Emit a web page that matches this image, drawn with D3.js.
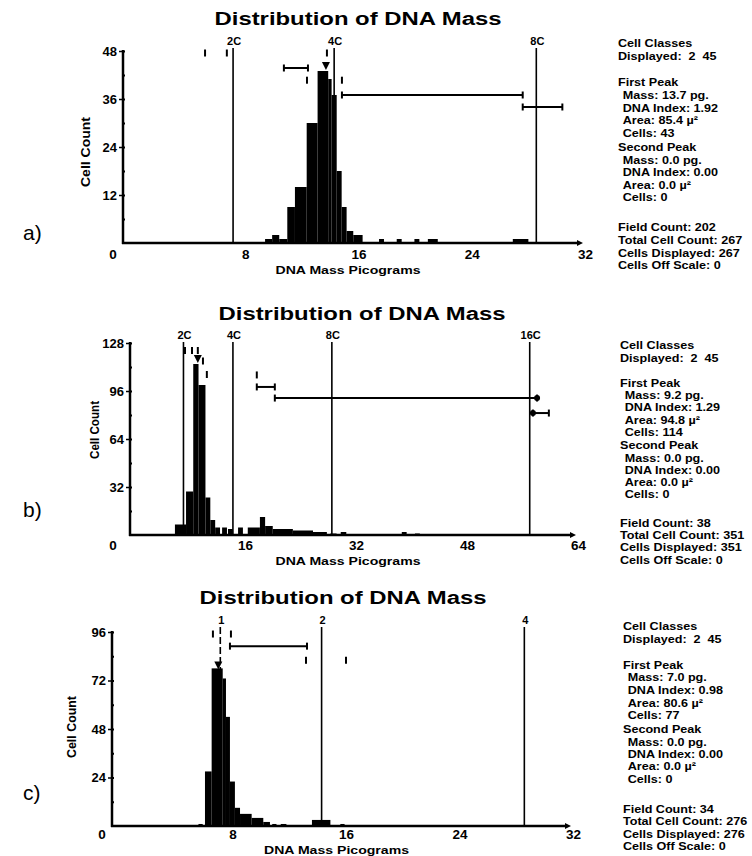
<!DOCTYPE html>
<html>
<head>
<meta charset="utf-8">
<script src="https://cdn.jsdelivr.net/npm/d3@7"></script>
<style>
  body { margin: 0; background: #fff; }
  svg text { font-family: "Liberation Sans", Arial, sans-serif; font-weight: bold; fill: #000; }
</style>
</head>
<body>
<svg id="chart" width="752" height="856"></svg>
<script>
// ---- data ----
var PANEL_LETTERS = ['a)', 'b)', 'c)'];
var X_MAX = [32, 64, 32];
var X_TICKS = [[8, 16, 24, 32], [16, 32, 48, 64], [8, 16, 24, 32]];
var X_MINOR = [[4, 12, 20, 28], [8, 24, 40, 56], [4, 12, 20, 28]];
var Y_MAX = [48, 128, 96];
var Y_TICKS = [[12, 24, 36, 48], [32, 64, 96, 128], [24, 48, 72, 96]];
var Y_MINOR = [[6, 18, 30, 42], [16, 48, 80, 112], [12, 36, 60, 84]];

// ploidy reference lines
var MARKER_LABELS = [['2C', '4C', '8C'], ['2C', '4C', '8C', '16C'], ['1', '2', '4']];
var MARKER_MASS = [[7.14, 14.28, 28.56], [7.13, 14.26, 28.52, 57.04], [7.14, 14.28, 28.57]];

// histogram bars: low edge, high edge, cell count
var aLo = [9.4, 9.9, 10.4, 10.97, 11.51, 12.34, 13.11, 13.86, 14.1, 14.46, 14.81, 15.16, 15.63, 17.45, 18.7, 19.95, 20.9, 26.9];
var aHi = [9.9, 10.4, 10.97, 11.51, 12.34, 13.11, 13.86, 14.1, 14.46, 14.81, 15.16, 15.63, 16.29, 17.8, 19.05, 20.3, 21.6, 28.0];
var aN  = [1, 2, 1, 9, 14, 30, 43, 41, 37, 18, 9, 3, 2, 1, 1, 1, 1, 1];

var bLo = [5.9, 7.5, 8.54, 9.3, 10.3, 11.0, 11.7, 12.7, 13.55, 15.0, 16.4, 18.15, 18.9, 20.0, 22.9, 25.8, 28.3, 29.8, 38.6, 40.5];
var bHi = [7.5, 8.54, 9.3, 10.3, 11.0, 11.7, 12.4, 13.4, 14.25, 15.7, 18.15, 18.9, 20.0, 22.9, 25.8, 27.8, 29.2, 30.6, 39.3, 41.2];
var bN  = [7, 29, 114, 100, 25, 10, 5, 5, 4, 5, 5, 12, 6, 4, 3, 2, 1, 2, 2, 1];

var cLo = [5.6, 6.06, 6.53, 7.31, 7.54, 7.82, 8.17, 8.53, 9.35, 10.17, 10.8, 11.4, 13.6, 15.6];
var cHi = [5.9, 6.53, 7.31, 7.54, 7.82, 8.17, 8.53, 9.35, 10.17, 10.64, 11.1, 11.8, 14.9, 15.9];
var cN  = [1, 27, 78, 73, 54, 22, 9, 6, 4, 2, 1, 1, 3, 1];

// class range brackets (mass from, mass to, drawn at count level)
var RANGE_LO = [[10.73, 14.83, 27.6], [17.7, 20.3, 57.5], [7.82]];
var RANGE_HI = [[12.43, 27.6, 30.4], [20.3, 58.1, 59.8], [13.25]];
var RANGE_LEVEL = [[43.75, 37, 34], [98.7, 91.3, 81.3], [89]];

// short cursor dashes (mass, count level)
var DASH_MASS = [[5.16, 6.7, 12.36, 13.77, 14.83], [7.35, 8.36, 9.2, 9.94, 10.5, 17.7], [6.62, 7.89, 13.18, 16.0]];
var DASH_LEVEL = [[47.5, 47.5, 40.7, 47.5, 40.7], [123, 123, 123, 116, 107, 106.7], [95, 95, 82, 82]];

// peak statistics
var FIELD_COUNT = [202, 38, 34];
var TOTAL_CELLS = [267, 351, 276];
var CELLS_SHOWN = [267, 351, 276];
var FIRST_MASS = ['13.7', '9.2', '7.0'];
var FIRST_INDEX = ['1.92', '1.29', '0.98'];
var FIRST_AREA = ['85.4', '94.8', '80.6'];
var FIRST_CELLS = [43, 114, 77];

// ---- layout (pixel positions of each panel) ----
var LAYOUT = [
  {left: 132, right: 585, top: 51, bottom: 243, axisX: 123, zeroX: 113, titleX: 358, titleY: 24.5, tickY: 259, xTitleY: 274, markY: 45,
   countX: 86, countY: 152, countLen: 70, letterY: 240, textX: 618, textY: 47, textStep: 1.17},
  {left: 134, right: 578, top: 343, bottom: 535, axisX: 130, zeroX: 113, titleX: 362, titleY: 319.5, tickY: 550, xTitleY: 565, markY: 339,
   countX: 95, countY: 430, countLen: 58, letterY: 517, textX: 620, textY: 349, textStep: 1.13},
  {left: 119, right: 573, top: 632, bottom: 826, axisX: 112, zeroX: 102, titleX: 343, titleY: 603.5, tickY: 839, xTitleY: 854, markY: 624,
   countX: 72, countY: 727, countLen: 62, letterY: 800, textX: 623, textY: 630, textStep: 1.16}
];

var BARS = [[aLo, aHi, aN], [bLo, bHi, bN], [cLo, cHi, cN]];
var d3sSVG = d3.select('#chart');

function drawPanel(i)
{
  var L = LAYOUT[i];
  var g = d3sSVG.append('g').classed('panel', true);
  var x = d3.scaleLinear().domain([0, X_MAX[i]]).range([L.left, L.right]);
  var y = d3.scaleLinear().domain([0, Y_MAX[i]]).range([L.bottom, L.top]);

  // title
  g.append('text')
    .attr('x', L.titleX).attr('y', L.titleY)
    .attr('text-anchor', 'middle')
    .attr('textLength', 287).attr('lengthAdjust', 'spacingAndGlyphs')
    .style('font-size', '18px')
    .text('Distribution of DNA Mass');

  // panel letter
  g.append('text')
    .attr('x', 23).attr('y', L.letterY)
    .style('font-size', '21px').style('font-weight', 'normal')
    .text(PANEL_LETTERS[i]);

  // histogram bars
  var lo = BARS[i][0], hi = BARS[i][1], n = BARS[i][2];
  g.append('g').selectAll('rect')
    .data(d3.range(n.length))
    .join('rect')
    .attr('x', function(k) { return x(lo[k]); })
    .attr('width', function(k) { return x(hi[k]) - x(lo[k]); })
    .attr('y', function(k) { return y(n[k]); })
    .attr('height', function(k) { return y(0) - y(n[k]); })
    .attr('fill', '#000');

  // ploidy marker lines
  MARKER_MASS[i].forEach(function(m, k) {
    g.append('line')
      .attr('x1', x(m)).attr('x2', x(m))
      .attr('y1', L.markY + 3).attr('y2', y(0))
      .attr('stroke', '#000').attr('stroke-width', 1.6)
      .attr('stroke-dasharray', (i == 2 && k == 0) ? '7,3' : null);
    g.append('text')
      .attr('x', x(m) + 1).attr('y', L.markY)
      .attr('text-anchor', 'middle')
      .style('font-size', '11px')
      .text(MARKER_LABELS[i][k]);
  });

  // range brackets
  RANGE_LO[i].forEach(function(r, k) {
    var yy = y(RANGE_LEVEL[i][k]);
    var x1 = x(r), x2 = x(RANGE_HI[i][k]);
    g.append('line').attr('x1', x1).attr('x2', x2).attr('y1', yy).attr('y2', yy)
      .attr('stroke', '#000').attr('stroke-width', 2);
    [x1, x2].forEach(function(xx) {
      g.append('line').attr('x1', xx).attr('x2', xx).attr('y1', yy - 3.5).attr('y2', yy + 3.5)
        .attr('stroke', '#000').attr('stroke-width', 2);
    });
  });
  if (i == 1)
  {
    g.append('circle').attr('cx', x(RANGE_HI[1][1])).attr('cy', y(RANGE_LEVEL[1][1])).attr('r', 3);
    g.append('circle').attr('cx', x(RANGE_LO[1][2])).attr('cy', y(RANGE_LEVEL[1][2])).attr('r', 3);
  }

  // cursor dashes
  DASH_MASS[i].forEach(function(m, k) {
    var yy = y(DASH_LEVEL[i][k]);
    g.append('line').attr('x1', x(m)).attr('x2', x(m)).attr('y1', yy - 3.5).attr('y2', yy + 3.5)
      .attr('stroke', '#000').attr('stroke-width', 2);
  });

  // first peak triangle
  var fPeak = parseFloat(FIRST_MASS[i]);
  var fTop = y(FIRST_CELLS[i]);
  g.append('path')
    .attr('d', 'M' + (x(fPeak) - 4) + ',' + (fTop - 9) + 'L' + (x(fPeak) + 4) + ',' + (fTop - 9) + 'L' + x(fPeak) + ',' + (fTop - 1) + 'Z')
    .attr('fill', '#000');

  // y axis
  var yAxis = d3.axisLeft(y).tickValues(Y_TICKS[i]).tickSize(4).tickPadding(2);
  var gy = g.append('g').attr('transform', 'translate(' + L.axisX + ',0)').call(yAxis);
  gy.select('.domain').remove();
  gy.selectAll('.tick line').attr('stroke-width', 1.5);
  gy.selectAll('.tick text').style('font-size', '13px').style('font-family', null);
  g.append('line').attr('x1', L.axisX).attr('x2', L.axisX).attr('y1', y(Y_MAX[i]) - 1).attr('y2', y(0) + 1)
    .attr('stroke', '#000').attr('stroke-width', 2.5);
  var yMinor = d3.axisRight(y).tickValues(Y_MINOR[i].concat(Y_TICKS[i])).tickSize(2).tickFormat('');
  var gym = g.append('g').attr('transform', 'translate(' + L.axisX + ',0)').call(yMinor);
  gym.select('.domain').remove();
  gym.selectAll('.tick line').attr('stroke-width', 2);

  // x axis
  var xAxis = d3.axisBottom(x).tickValues(X_TICKS[i]).tickSize(0).tickPadding(0);
  var gx = g.append('g').attr('transform', 'translate(0,' + (L.tickY - 9.5) + ')').call(xAxis);
  gx.select('.domain').remove();
  gx.selectAll('.tick text').attr('dy', '0.71em').style('font-size', '13.5px').style('font-family', null);
  var xMinor = d3.axisBottom(x).tickValues(X_MINOR[i]).tickSize(2).tickFormat('');
  var gxm = g.append('g').attr('transform', 'translate(0,' + (y(0) - 1) + ')').call(xMinor);
  gxm.select('.domain').remove();
  gxm.selectAll('.tick line').attr('stroke-width', 2);
  g.append('line').attr('x1', L.axisX - 1).attr('x2', L.right - 6).attr('y1', y(0)).attr('y2', y(0))
    .attr('stroke', '#000').attr('stroke-width', 2.5);
  g.append('path')
    .attr('d', 'M' + (L.right - 8) + ',' + (y(0) - 3) + 'L' + (L.right - 2) + ',' + y(0) + 'L' + (L.right - 8) + ',' + (y(0) + 3) + 'Z')
    .attr('fill', '#000');
  g.append('text')
    .attr('x', L.zeroX).attr('y', L.tickY)
    .attr('text-anchor', 'middle')
    .style('font-size', '13.5px')
    .text('0');

  // axis titles
  g.append('text')
    .attr('x', (L.axisX + L.right) / 2 - 6).attr('y', L.xTitleY)
    .attr('text-anchor', 'middle')
    .attr('textLength', 145).attr('lengthAdjust', 'spacingAndGlyphs')
    .style('font-size', '11.5px')
    .text('DNA Mass Picograms');
  g.append('text')
    .attr('transform', 'translate(' + (L.countX + 4) + ',' + L.countY + ') rotate(-90)')
    .attr('text-anchor', 'middle')
    .attr('textLength', L.countLen).attr('lengthAdjust', 'spacingAndGlyphs')
    .style('font-size', '12px')
    .text('Cell Count');

  // statistics block on the right
  var aLines = [
    {t: 'Cell Classes', dy: 0, ind: 0},
    {t: 'Displayed:  2  45', dy: 11.5, ind: 0},
    {t: 'First Peak', dy: 33.5, ind: 0},
    {t: 'Mass: ' + FIRST_MASS[i] + ' pg.', dy: 44.4, ind: 4},
    {t: 'DNA Index: ' + FIRST_INDEX[i], dy: 55.3, ind: 4},
    {t: 'Area: ' + FIRST_AREA[i] + ' \u00b5\u00b2', dy: 66.2, ind: 4},
    {t: 'Cells: ' + FIRST_CELLS[i], dy: 77.1, ind: 4},
    {t: 'Second Peak', dy: 88.8, ind: 0},
    {t: 'Mass: 0.0 pg.', dy: 99.7, ind: 4},
    {t: 'DNA Index: 0.00', dy: 110.4, ind: 4},
    {t: 'Area: 0.0 \u00b5\u00b2', dy: 121.1, ind: 4},
    {t: 'Cells: 0', dy: 131.8, ind: 4},
    {t: 'Field Count: ' + FIELD_COUNT[i], dy: 157.5, ind: 0},
    {t: 'Total Cell Count: ' + TOTAL_CELLS[i], dy: 168.3, ind: 0},
    {t: 'Cells Displayed: ' + CELLS_SHOWN[i], dy: 179.1, ind: 0},
    {t: 'Cells Off Scale: 0', dy: 189.9, ind: 0}
  ];
  g.append('g')
    .attr('transform', 'translate(' + L.textX + ',' + L.textY + ') scale(1.2,1)')
    .selectAll('text')
    .data(aLines)
    .join('text')
    .attr('x', function(d) { return d.ind; })
    .attr('y', function(d) { return d.dy * L.textStep; })
    .style('font-size', '10.5px')
    .style('white-space', 'pre')
    .text(function(d) { return d.t; });
}

function main()
{
  for (var i = 0; i < 3; i++)
  {
    drawPanel(i);
  }
}

main();
</script>
</body>
</html>
